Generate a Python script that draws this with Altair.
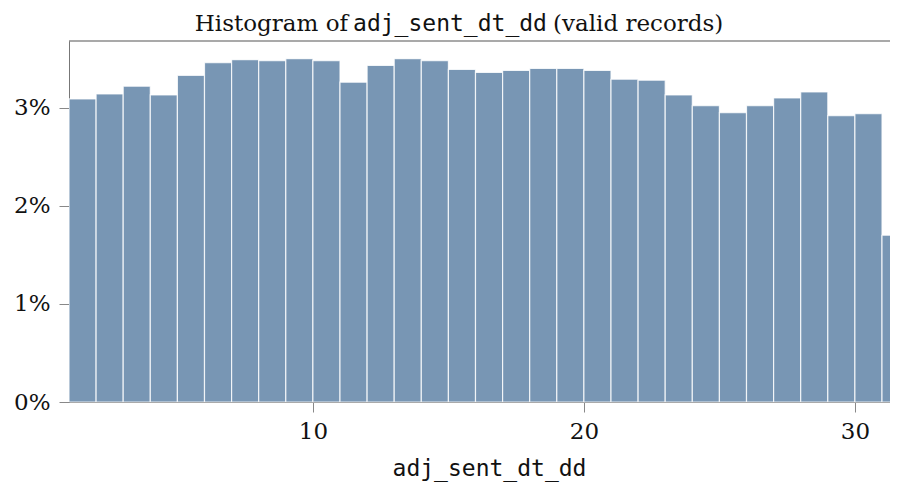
import altair as alt
import pandas as pd

days = list(range(1, 32))
pct = [3.09, 3.14, 3.22, 3.13, 3.33, 3.46, 3.49, 3.48, 3.50, 3.48,
       3.26, 3.43, 3.50, 3.48, 3.39, 3.36, 3.38, 3.40, 3.40, 3.38,
       3.29, 3.28, 3.13, 3.02, 2.95, 3.02, 3.10, 3.16, 2.92, 2.94,
       1.70]
x_ticks = [10, 20, 30]
y_ticks = [0.0, 0.01, 0.02, 0.03]
title_parts = ["Histogram of", "adj_sent_dt_dd", "(valid records)"]
x_title = "adj_sent_dt_dd"

W, H = 829, 361
SERIF = "DejaVu Serif"
MONO = "DejaVu Sans Mono"

df = pd.DataFrame({"day": days, "share": [p / 100 for p in pct]})

xscale = alt.Scale(domain=[1, 31.59], nice=False, zero=False)
yscale = alt.Scale(domain=[0, 0.0368], nice=False)

bars = alt.Chart(df).transform_calculate(
    day_end="datum.day + 1", base="0"
).mark_bar(
    color="#7896b4", stroke="white", strokeWidth=1.2, strokeOpacity=0.8, clip=True
).encode(
    x=alt.X("day:Q", scale=xscale,
            axis=alt.Axis(values=x_ticks, format="d", title=x_title,
                          titleFont=MONO, titleFontSize=23, titleFontWeight="normal",
                          titleColor="#111", titleX=420, titleY=73,
                          titleBaseline="alphabetic", titleAlign="center",
                          labelFont=SERIF, labelFontSize=23, labelColor="#111",
                          labelPadding=8, tickSize=10, tickColor="#888",
                          domainColor="#aaa", grid=False)),
    x2="day_end:Q",
    y=alt.Y("share:Q", scale=yscale,
            axis=alt.Axis(values=y_ticks, format=".0%", title=None,
                          labelFont=SERIF, labelFontSize=23, labelColor="#111",
                          labelPadding=9, tickSize=10, tickColor="#888",
                          domainColor="#777", grid=False)),
    y2="base:Q",
)

top_rule = alt.Chart(pd.DataFrame({"a": [0]})).mark_rule(
    color="#555", strokeWidth=1.2
).encode(x=alt.value(0), x2=alt.value(W), y=alt.value(0))

tdf = pd.DataFrame({"t": [0]})
t1 = alt.Chart(tdf).mark_text(
    text=title_parts[0], font=SERIF, fontSize=23, align="right",
    baseline="alphabetic", color="#111"
).encode(x=alt.value(279), y=alt.value(-10))
t2 = alt.Chart(tdf).mark_text(
    text=title_parts[1], font=MONO, fontSize=23, align="center",
    baseline="alphabetic", color="#111"
).encode(x=alt.value(381), y=alt.value(-10))
t3 = alt.Chart(tdf).mark_text(
    text=title_parts[2], font=SERIF, fontSize=23, align="left",
    baseline="alphabetic", color="#111"
).encode(x=alt.value(484), y=alt.value(-10))

chart = alt.layer(bars, top_rule, t1, t2, t3).properties(
    width=W, height=H,
    autosize=alt.AutoSizeParams(type="none"),
    padding={"left": 61, "top": 33, "right": -8, "bottom": 85},
).configure_view(stroke=None)

chart.save("out.html", embed_options={"renderer": "svg", "actions": False})
